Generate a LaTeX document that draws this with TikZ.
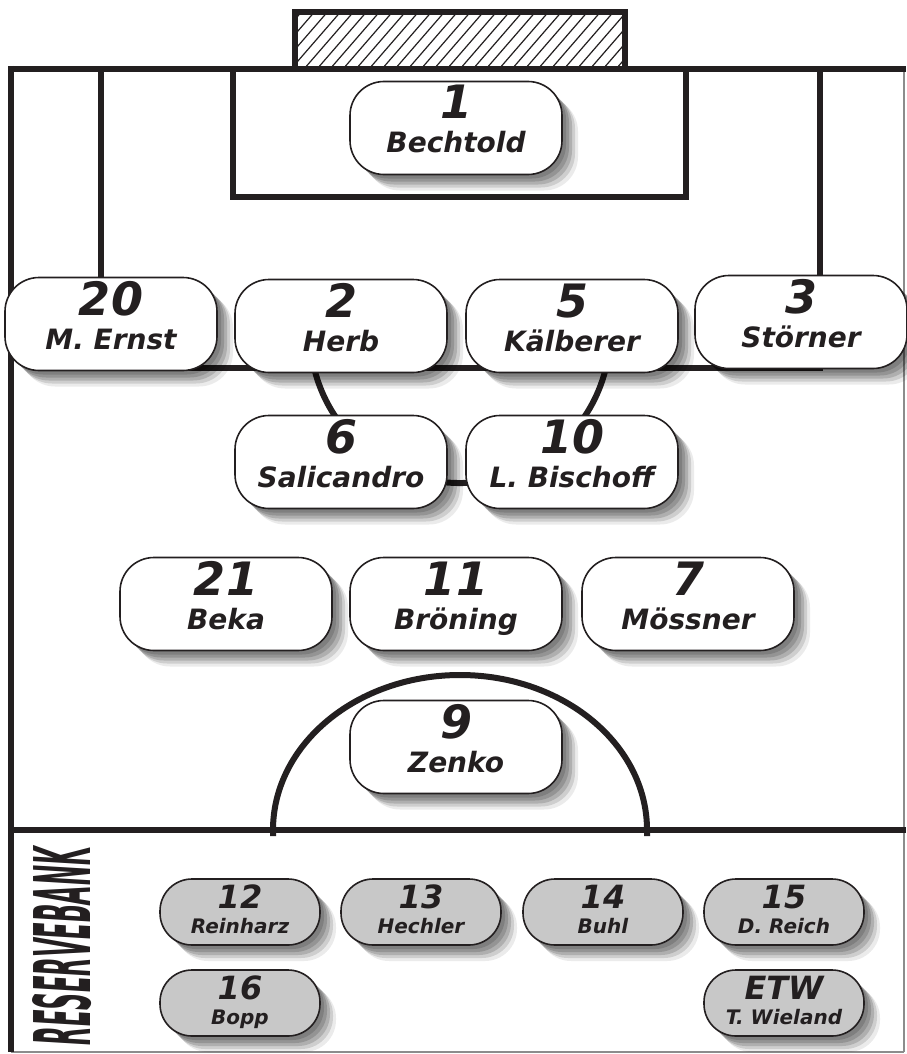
\documentclass[tikz,border=0pt]{standalone}
\usepackage{fontspec}
\setmainfont{DejaVu Sans}
\usepackage{graphicx}
\usetikzlibrary{shadows}
\definecolor{ink}{HTML}{231F20}
\definecolor{bench}{HTML}{C8C8C8}
\tikzset{
  pitch/.style={draw=ink, line width=6pt},
  thinborder/.style={draw=black!45, line width=1.2pt},
  shad/.style={
    drop shadow={shadow xshift=4pt, shadow yshift=-4pt, opacity=.14, fill=black},
    drop shadow={shadow xshift=7pt, shadow yshift=-7pt, opacity=.15, fill=black},
    drop shadow={shadow xshift=10pt, shadow yshift=-10pt, opacity=.15, fill=black},
    drop shadow={shadow xshift=13pt, shadow yshift=-13pt, opacity=.12, fill=black},
    drop shadow={shadow xshift=16pt, shadow yshift=-16pt, opacity=.08, fill=black}},
  pbox/.style={shad, draw=ink, line width=1.6pt, fill=white, rounded corners=34pt,
    minimum width=212pt, minimum height=93pt, inner sep=0pt},
  bbox/.style={shad, draw=ink, line width=1.6pt, fill=bench, rounded corners=32pt,
    minimum width=160pt, minimum height=66pt, inner sep=0pt},
  numtxt/.style={anchor=base, inner sep=0pt, text=ink,
    font=\fontsize{46}{46}\selectfont\bfseries\itshape},
  nametxt/.style={anchor=base, inner sep=0pt, text=ink,
    font=\fontsize{28}{28}\selectfont\bfseries\itshape},
  bnumtxt/.style={anchor=base, inner sep=0pt, text=ink,
    font=\fontsize{32}{32}\selectfont\bfseries\itshape},
  bnametxt/.style={anchor=base, inner sep=0pt, text=ink,
    font=\fontsize{20}{20}\selectfont\bfseries\itshape},
  hatch/.style={draw=ink, line width=1.2pt}
}
\newcommand\player[5]{%
  \node[pbox] (#1) at (#2,#3) {};
  \node[numtxt] (#1n) at ([yshift=9pt]#1.center) {#4};
  \node[nametxt] (#1t) at ([yshift=-25pt]#1.center) {#5};
}
\newcommand\benchplayer[5]{%
  \node[bbox] (#1) at (#2,#3) {};
  \node[bnumtxt] (#1n) at ([yshift=4pt]#1.center) {#4};
  \node[bnametxt] (#1t) at ([yshift=-21pt]#1.center) {#5};
}
\begin{document}
\begin{tikzpicture}[x=1pt, y=-1pt]
\useasboundingbox (0,0) rectangle (906,1054);
\fill[white] (0,0) rectangle (906,1054);

% goal with hatching
\begin{scope}
  \clip (295,12) rectangle (625,69);
  \foreach \h in {-60,-47,...,640} {
    \draw[hatch] (\h,69) -- ++(52,-60);
  }
\end{scope}
\draw[pitch] (295,69) -- (295,12) -- (625,12) -- (625,69);

% outer thin borders
\draw[thinborder] (904,69) -- (904,1052);
\draw[thinborder] (11,1052) -- (904,1052);

% pitch lines
\draw[pitch] (8,69) -- (906,69);
\draw[pitch] (11,66) -- (11,1052);
\draw[pitch] (101,69) -- (101,368) -- (820,368) -- (820,69);
\draw[pitch] (233,69) -- (233,197) -- (686,197) -- (686,69);
\draw[pitch] (11,830) -- (906,830);
\draw[pitch] (460,333) ++(195:150pt) arc[start angle=195, end angle=345, radius=150pt];
\draw[pitch] (273,836) -- (273,830) arc[start angle=180, end angle=0, x radius=187pt, y radius=155pt] -- (647,836);

% bench label
\node[rotate=90, inner sep=0pt, text=ink] (bank) at (62,946)
  {\resizebox{198pt}{58pt}{\bfseries\itshape RESERVEBANK}};

% starting eleven
\player{p1}{456}{128}{1}{Bechtold}
\player{p20}{111}{324}{20}{M. Ernst}
\player{p2}{341}{326}{2}{Herb}
\player{p5}{572}{326}{5}{Kälberer}
\player{p3}{801}{322}{3}{Störner}
\player{p6}{341}{462}{6}{Salicandro}
\player{p10}{572}{462}{10}{L. Bischoff}
\player{p21}{226}{604}{21}{Beka}
\player{p11}{456}{604}{11}{Bröning}
\player{p7}{688}{604}{7}{Mössner}
\player{p9}{456}{747}{9}{Zenko}

% substitutes
\benchplayer{s12}{240}{912}{12}{Reinharz}
\benchplayer{s13}{421}{912}{13}{Hechler}
\benchplayer{s14}{603}{912}{14}{Buhl}
\benchplayer{s15}{784}{912}{15}{D. Reich}
\benchplayer{s16}{240}{1003}{16}{Bopp}
\benchplayer{setw}{784}{1003}{ETW}{T. Wieland}
\end{tikzpicture}
\end{document}
